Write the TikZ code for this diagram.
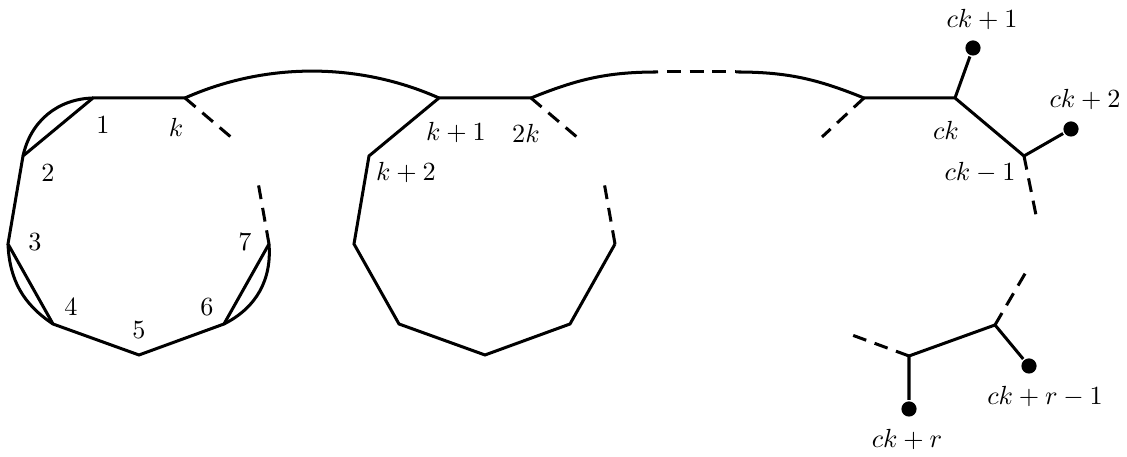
\documentclass[tikz,border=0pt]{standalone}
\begin{document}
\begin{tikzpicture}[x=0.3817pt,y=0.3817pt,line width=1.15pt,
  spoke/.style={dash pattern=on 5.3pt off 3.4pt},
  dot/.style={circle,fill,inner sep=0pt,minimum size=5.8pt}]
\useasboundingbox (0,0) rectangle (1127,457);
% corners of the first polygon, the second one is the same shifted right
\foreach \n/\x/\y in {1/93/359,k/185/359,2/23/301,3/8/213,4/53/133,5/139/102,6/224/133,7/269/213,ke/232/319,7e/258/275}{
  \coordinate (a\n) at (\x,\y);
  \coordinate (b\n) at (\x+346,\y);
}
\foreach \p in {a,b}{
  \draw (\p k) -- (\p 1) -- (\p 2) -- (\p 3) -- (\p 4) -- (\p 5) -- (\p 6) -- (\p 7);
  \draw[spoke] (\p k) -- (\p ke);
  \draw[spoke] (\p 7) -- (\p 7e);
}
\draw (a1) to[bend right=38] (a2);
\draw (a3) to[bend right=27] (a4);
\draw (a6) to[bend right=34] (a7);
\foreach \n/\x/\y in {1/103/332,k/176/330,2/48/284,3/35/215,4/71/150,5/139/127,6/207/150,7/245/215}
  \node (la\n) at (\x,\y) {$\n$};
\node (lb1) at (456,324) {$k+1$};
\node (lbk) at (526,324) {$2k$};
\node (lb2) at (406,284) {$k+2$};
% the chain on the right
\coordinate (c0) at (864,359);
\coordinate (c1) at (955,359);
\coordinate (c2) at (1024,301);
\coordinate (c3) at (995,132);
\coordinate (c4) at (909,101);
\coordinate (c0e) at (822,320);
\coordinate (c2e) at (1037,237);
\coordinate (c3e) at (1026,185);
\coordinate (c4e) at (852,122);
\node[dot] (d1) at (973,409) {};
\node[dot] (d2) at (1071,328) {};
\node[dot] (d3) at (1029,91) {};
\node[dot] (d4) at (909,48) {};
\draw (c0) -- (c1) -- (c2) -- (d2);
\draw (c1) -- (d1);
\draw (d3) -- (c3) -- (c4) -- (d4);
\draw[spoke] (c0) -- (c0e);
\draw[spoke] (c2) -- (c2e);
\draw[spoke] (c3) -- (c3e);
\draw[spoke] (c4) -- (c4e);
\node (lc1) at (982,437) {$ck+1$};
\node (lc2) at (1085,357) {$ck+2$};
\node (lc0) at (946,327) {$ck$};
\node (lcm) at (980,284) {$ck-1$};
\node (lcr1) at (1045,60) {$ck+r-1$};
\node (lcr) at (907,17) {$ck+r$};
% arcs along the top
\coordinate (t1) at (658,385);
\coordinate (t2) at (736,385);
\draw (ak) to[out=24,in=156,looseness=0.89] (b1);
\draw (bk) to[out=22,in=180] (t1) (t2) to[out=0,in=158] (c0);
\draw[spoke,dash phase=5.3pt] (t1) -- (t2);
\end{tikzpicture}
\end{document}
